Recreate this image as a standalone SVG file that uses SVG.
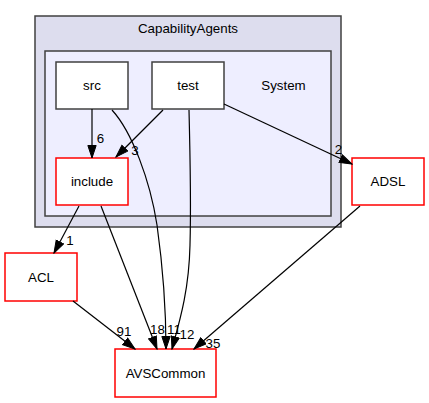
<svg xmlns="http://www.w3.org/2000/svg" width="429" height="403" viewBox="0 0 429 403">
<defs>
<marker id="ah" markerUnits="userSpaceOnUse" markerWidth="14" markerHeight="10" refX="13" refY="4.65" orient="auto" viewBox="0 0 14 10">
<path d="M0.5,0.5 L13,4.65 L0.5,8.8 z" fill="#000" stroke="#000" stroke-width="1"/>
</marker>
<style>
text{font-family:"Liberation Sans",Arial,sans-serif;font-size:13.33px;fill:#000;text-anchor:middle}
.c1{fill:#ddddee;stroke:#404040;stroke-width:1.5}
.c2{fill:#eeeeff;stroke:#404040;stroke-width:1.5}
.nb{fill:#fff;stroke:#404040;stroke-width:1.5}
.nr{fill:#fff;stroke:#ff0000;stroke-width:1.5}
.e{fill:none;stroke:#000;stroke-width:1.2;marker-end:url(#ah)}
</style>
</defs>
<rect width="429" height="403" fill="#fff"/>
<g id="cluster_CapabilityAgents">
<rect class="c1" x="35" y="16" width="306" height="211"/>
<text x="188" y="33">CapabilityAgents</text>
</g>
<g id="cluster_System">
<rect class="c2" x="45" y="51" width="286" height="165"/>
<text x="283.5" y="90">System</text>
</g>
<g id="node_src">
<rect class="nb" x="56" y="62" width="72" height="47"/>
<text x="92" y="90">src</text>
</g>
<g id="node_test">
<rect class="nb" x="152" y="62" width="72" height="47"/>
<text x="188" y="90">test</text>
</g>
<g id="node_include">
<rect class="nr" x="56" y="158" width="72" height="47"/>
<text x="92" y="186">include</text>
</g>
<g id="node_ADSL">
<rect class="nr" x="352" y="158" width="72" height="47"/>
<text x="388" y="186">ADSL</text>
</g>
<g id="node_ACL">
<rect class="nr" x="5" y="253" width="72" height="48"/>
<text x="41" y="282">ACL</text>
</g>
<g id="node_AVSCommon">
<rect class="nr" x="115" y="349" width="101" height="48"/>
<text x="165.5" y="378">AVSCommon</text>
</g>
<g id="connectors">
<path class="e" d="M92,109 L92,158"/>
<text x="100.5" y="143">6</text>
<path class="e" d="M163,110 L116,157"/>
<text x="135" y="155">3</text>
<path class="e" d="M224,104 L352,164"/>
<text x="338.5" y="154">2</text>
<path class="e" d="M112,110 C132,132 150,180 157,225 C163,268 166,310 166,349"/>
<text x="174" y="334">11</text>
<path class="e" d="M189,110 C190,150 191,210 190,245 C189,290 180,320 172,349"/>
<text x="187" y="339">12</text>
<path class="e" d="M101,206 L157,349"/>
<text x="157.5" y="334">18</text>
<path class="e" d="M79,206 L54,253"/>
<text x="70" y="245">1</text>
<path class="e" d="M73,301 L135,349"/>
<text x="124" y="336">91</text>
<path class="e" d="M360,206 L194,349"/>
<text x="213" y="348">35</text>
</g>
</svg>
